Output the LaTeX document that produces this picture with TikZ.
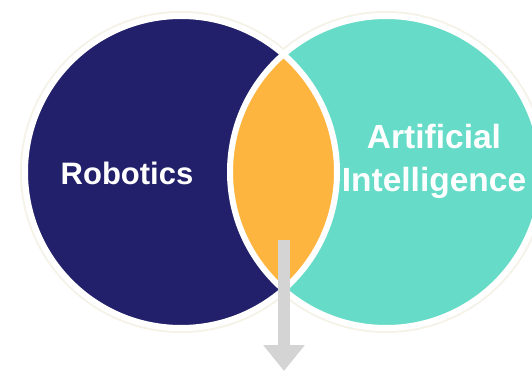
\documentclass[tikz,border=0pt]{standalone}
\usepackage{fontspec}
\setmainfont{Liberation Sans}
\usetikzlibrary{arrows.meta,positioning}
\definecolor{robnavy}{HTML}{22206A}
\definecolor{aiteal}{HTML}{66DCC8}
\definecolor{lensorange}{HTML}{FDB53F}
\definecolor{arrowgray}{HTML}{D4D4D4}
\definecolor{halocream}{HTML}{F5F3E8}

\begin{document}
\begin{tikzpicture}[x=1pt,y=-1pt,
  venn/.style={circle,minimum size=312pt,inner sep=0pt},
  vennlabel/.style={text=white,font=\bfseries\fontsize{31}{42}\selectfont,align=center}]
%fix the page
\useasboundingbox (0,0) rectangle (532,371);
\clip (0,0) rectangle (532,371);
\fill[white] (0,0) rectangle (532,371);
%faint outer rings
\draw[halocream,line width=2pt] (181,172) circle[radius=160pt];
\draw[halocream,line width=2pt] (386,172) circle[radius=160pt];
%draw the two circles
\node[venn,fill=robnavy] (rob) at (181,172) {};
\node[venn,fill=aiteal] (ai) at (386,172) {};
%draw the overlap
\begin{scope}
  \clip (rob.center) circle[radius=156pt];
  \fill[lensorange] (ai.center) circle[radius=156pt];
\end{scope}
%white borders
\draw[white,line width=6pt] (rob.center) circle[radius=156pt];
\draw[white,line width=6pt] (ai.center) circle[radius=156pt];
%labels
\node[vennlabel] (roblabel) at (127,173) {Robotics};
\node[vennlabel,font=\bfseries\fontsize{33.5}{43}\selectfont] (ailabel) at (434,161) {Artificial\\Intelligence};
%arrow out of the overlap
\coordinate (arrowtop) at (284,240);
\coordinate (arrowtip) at (284,371);
\draw[arrowgray,line width=12pt,-{Triangle[width=40pt,length=26pt]}] (arrowtop) -- (arrowtip);
\end{tikzpicture}
\end{document}
